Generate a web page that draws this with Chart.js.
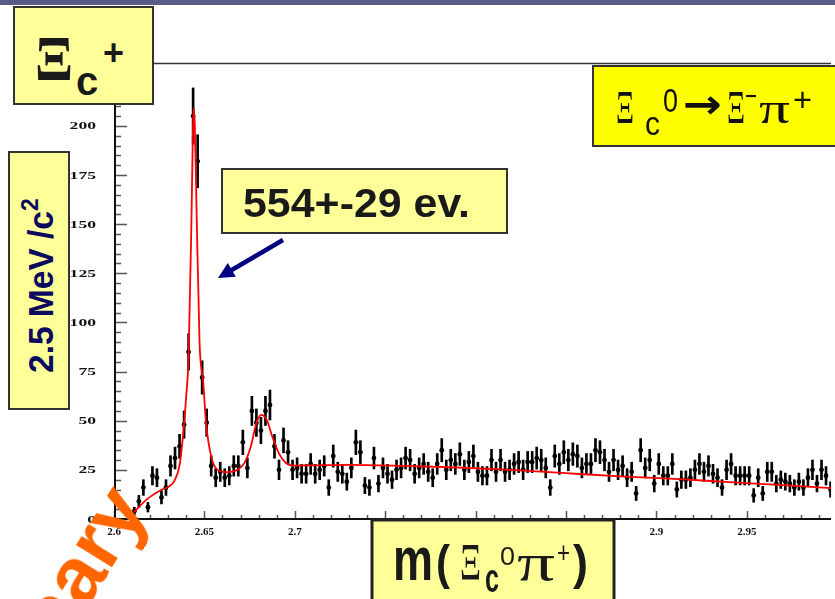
<!DOCTYPE html>
<html>
<head>
<meta charset="utf-8">
<script src="https://cdn.jsdelivr.net/npm/chart.js@4.4.1/dist/chart.umd.min.js"></script>
<style>
  html, body { margin: 0; padding: 0; background: #fff; }
  #wrap { position: relative; width: 835px; height: 599px; overflow: hidden; }
  #chart, #overlay { position: absolute; left: 0; top: 0; }
  #overlay { pointer-events: none; }
</style>
</head>
<body>
<div id="wrap">
  <canvas id="chart" width="835" height="599"></canvas>
  <svg id="overlay" width="835" height="599" xmlns="http://www.w3.org/2000/svg">
    <rect x="0" y="0" width="835" height="5" fill="#5b5b88"/>

    <!-- Xi_c+ label -->
    <rect x="14" y="7" width="139" height="97" fill="#ffff99" stroke="#333" stroke-width="2"/>
    <text x="35" y="80" font-family="Liberation Serif" font-weight="bold" font-size="64" textLength="38" lengthAdjust="spacingAndGlyphs" fill="#1a1a1a">Ξ</text>
    <text x="76" y="95" font-family="Liberation Sans" font-weight="bold" font-size="40" fill="#1a1a1a">c</text>
    <text x="103" y="65" font-family="Liberation Sans" font-weight="bold" font-size="36" fill="#1a1a1a">+</text>

    <!-- y title -->
    <rect x="9" y="152" width="60" height="257" fill="#ffff99" stroke="#333" stroke-width="2"/>
    <text transform="translate(53,373) rotate(-90)" font-family="Liberation Sans" font-weight="bold" font-size="35" textLength="162" lengthAdjust="spacingAndGlyphs" fill="#0a0a5e">2.5 MeV /c</text>
    <text transform="translate(38,211) rotate(-90)" font-family="Liberation Sans" font-weight="bold" font-size="23" fill="#0a0a5e">2</text>

    <!-- decay box -->
    <rect x="593" y="66" width="250" height="80" fill="#ffff00" stroke="#333" stroke-width="2"/>
    <g font-family="Liberation Sans" fill="#111">
      <text x="616" y="123" font-family="Liberation Serif" font-size="46" textLength="18" lengthAdjust="spacingAndGlyphs">Ξ</text>
      <text x="645" y="135" font-size="34" textLength="15" lengthAdjust="spacingAndGlyphs">c</text>
      <text x="663" y="112" font-size="33" textLength="15" lengthAdjust="spacingAndGlyphs">0</text>
      <text x="683" y="118" font-family="DejaVu Sans" font-weight="bold" font-size="40" textLength="39" lengthAdjust="spacingAndGlyphs">→</text>
      <text x="727" y="123" font-family="Liberation Serif" font-size="46" textLength="18" lengthAdjust="spacingAndGlyphs">Ξ</text>
      <text x="745" y="106" font-size="30" textLength="12" lengthAdjust="spacingAndGlyphs">−</text>
      <text x="759" y="123" font-family="Liberation Serif" font-size="44" textLength="31" lengthAdjust="spacingAndGlyphs">π</text>
      <text x="793" y="111" font-size="34" textLength="19" lengthAdjust="spacingAndGlyphs">+</text>
    </g>

    <!-- yield -->
    <rect x="222" y="169" width="285" height="64" fill="#ffff99" stroke="#333" stroke-width="2"/>
    <text x="243" y="217" font-family="Liberation Sans" font-weight="bold" font-size="41" textLength="227" lengthAdjust="spacingAndGlyphs" fill="#1a1a1a">554+-29 ev.</text>
    <line x1="283" y1="240" x2="230" y2="271" stroke="#000080" stroke-width="4.5"/>
    <polygon points="218,278 227.8,263 235.8,276.8" fill="#000080"/>

    <!-- x title -->
    <rect x="372" y="520" width="242" height="90" fill="#ffff99" stroke="#222" stroke-width="3"/>
    <g font-family="Liberation Sans" fill="#1a1a1a">
      <text x="393" y="580" font-weight="bold" font-size="61" textLength="40" lengthAdjust="spacingAndGlyphs">m</text>
      <text x="436" y="579" font-weight="bold" font-size="49" textLength="14" lengthAdjust="spacingAndGlyphs">(</text>
      <text x="460" y="580" font-family="Liberation Serif" font-size="52" textLength="21" lengthAdjust="spacingAndGlyphs">Ξ</text>
      <text x="485" y="592" font-weight="bold" font-size="40" textLength="14" lengthAdjust="spacingAndGlyphs">c</text>
      <text x="500" y="565" font-size="26" textLength="15" lengthAdjust="spacingAndGlyphs">0</text>
      <text x="517" y="580" font-family="Liberation Serif" font-size="52" textLength="38" lengthAdjust="spacingAndGlyphs">π</text>
      <text x="557" y="563" font-size="29" textLength="13" lengthAdjust="spacingAndGlyphs">+</text>
      <text x="573" y="579" font-weight="bold" font-size="49" textLength="15" lengthAdjust="spacingAndGlyphs">)</text>
    </g>

    <text transform="translate(149,508) rotate(-58)" text-anchor="end" font-family="Liberation Sans" font-weight="bold" font-size="80" fill="#ff6600">Preliminary</text>
  </svg>
</div>
<script>
const binStart = 2.61;
const binWidth = 0.0025;

const counts = [
  4, 9, 16, 6, 22, 21, 11, 16, 27, 31,
  37, 48, 85, 205, 182, 72, 49, 27, 21, 24,
  21, 22, 27, 27, 39, 26, 55, 49, 45, 55,
  58, 37, 25, 40, 34, 25, 26, 23, 23, 28,
  23, 25, 27, 16, 32, 24, 23, 19, 26, 39,
  34, 17, 16, 31, 18, 26, 23, 20, 25, 26,
  31, 30, 23, 26, 28, 24, 21, 28, 35, 25,
  30, 28, 33, 25, 29, 32, 24, 22, 22, 30,
  24, 30, 24, 25, 28, 29, 25, 29, 29, 31,
  30, 26, 16, 32, 28, 34, 30, 33, 32, 26,
  28, 28, 35, 34, 30, 24, 30, 25, 27, 21,
  24, 13, 35, 26, 30, 18, 28, 22, 22, 28,
  15, 20, 20, 21, 25, 28, 24, 27, 23, 21,
  16, 25, 28, 22, 22, 22, 22, 12, 21, 13,
  24, 24, 18, 20, 19, 18, 16, 19, 16, 21,
  25, 18, 25, 22, 15
];

const fitMass = [
  2.6110, 2.6188, 2.6262, 2.6308, 2.6335, 2.6363, 2.6381, 2.6399, 2.6413, 2.6428,
  2.6436, 2.6441, 2.6447, 2.6456, 2.6473, 2.6493, 2.6509, 2.6537, 2.6573, 2.6628,
  2.6683, 2.6720, 2.6757, 2.6787, 2.6815, 2.6845, 2.6875, 2.6912, 2.6949, 2.6995,
  2.7100, 2.7300, 2.7600, 2.7900, 2.8200, 2.8500, 2.8800, 2.9100, 2.9400, 2.9700,
  2.9965
];
const fitValue = [
  3.5, 10.5, 14.8, 16.8, 19.5, 27.5, 41.9, 62, 84, 150,
  196, 209, 200, 160, 90, 70, 49, 32, 25, 23.8,
  25, 28.3, 37, 48.7, 53, 50.4, 42, 33.4, 28.6, 27.2,
  27.3, 27.5, 27.0, 26.2, 25.0, 23.3, 21.7, 20.4, 18.8, 17.2,
  15.7
];

const xTickLabels = ['2.6', '2.65', '2.7', '2.75', '2.8', '2.85', '2.9', '2.95'];
const yTickLabels = ['0', '25', '50', '75', '100', '125', '150', '175', '200'];

const points = counts.map((n, i) => ({ x: binStart + binWidth * (i + 0.5), y: n }));
const errBars = points.map(p => ({ x: p.x, y: [p.y - Math.sqrt(p.y), p.y + Math.sqrt(p.y)] }));
const fitLine = fitMass.map((m, i) => ({ x: m, y: fitValue[i] }));

function seg(ctx, x1, y1, x2, y2) {
  ctx.beginPath();
  ctx.moveTo(x1, y1);
  ctx.lineTo(x2, y2);
  ctx.stroke();
}

// ROOT style frame: ticks inside, labels in bold serif
const rootAxes = {
  id: 'rootAxes',
  afterDatasetsDraw(chart) {
    const { ctx, chartArea: a, scales: { x, y } } = chart;
    ctx.save();
    ctx.strokeStyle = '#333';
    ctx.lineWidth = 1.5;
    seg(ctx, a.left, a.top + 0.5, a.right, a.top + 0.5);

    ctx.strokeStyle = '#555';
    ctx.lineWidth = 1.5;
    for (let v = 0; v <= y.max; v += 5) {
      const py = Math.round(y.getPixelForValue(v)) + 0.5;
      seg(ctx, a.left, py, a.left + (v % 25 === 0 ? 13 : 7), py);
    }
    for (let k = 0; 2.6 + k * 0.01 <= x.max; k++) {
      const px = Math.round(x.getPixelForValue(2.6 + k * 0.01)) + 0.5;
      seg(ctx, px, a.bottom, px, a.bottom - (k % 5 === 0 ? 8 : 4));
    }

    ctx.strokeStyle = '#111';
    ctx.lineWidth = 2;
    seg(ctx, a.left + 1, a.top, a.left + 1, a.bottom + 1);
    seg(ctx, a.left, a.bottom, a.right, a.bottom);

    ctx.fillStyle = '#111';
    ctx.font = 'bold 11px "Liberation Serif"';
    ctx.textAlign = 'center';
    xTickLabels.forEach(t => {
      ctx.fillText(t, x.getPixelForValue(parseFloat(t)), 535);
    });
    ctx.textAlign = 'right';
    yTickLabels.forEach(t => {
      ctx.save();
      ctx.translate(96, y.getPixelForValue(parseFloat(t)) + 3.5);
      ctx.scale(1.6, 1);
      ctx.fillText(t, 0, 0);
      ctx.restore();
    });
    ctx.restore();
  }
};

new Chart(document.getElementById('chart'), {
  type: 'bar',
  data: {
    datasets: [
      {
        type: 'line',
        data: fitLine,
        borderColor: '#ff0000',
        borderWidth: 1.8,
        pointRadius: 0,
        cubicInterpolationMode: 'monotone',
        fill: false,
        order: 0
      },
      {
        type: 'scatter',
        data: points,
        backgroundColor: '#000',
        borderColor: '#000',
        pointRadius: 2.4,
        borderWidth: 0,
        order: 1
      },
      {
        type: 'bar',
        data: errBars,
        backgroundColor: '#000',
        barThickness: 2,
        grouped: false,
        order: 2
      }
    ]
  },
  options: {
    responsive: false,
    animation: false,
    devicePixelRatio: 1,
    layout: { padding: { left: 114, right: 0, top: 63, bottom: 80 } },
    plugins: { legend: { display: false }, tooltip: { enabled: false } },
    scales: {
      x: { type: 'linear', display: false, min: 2.6, max: 2.9965, offset: false },
      y: { type: 'linear', display: false, min: 0, max: 232 }
    }
  },
  plugins: [rootAxes]
});
</script>
</body>
</html>
